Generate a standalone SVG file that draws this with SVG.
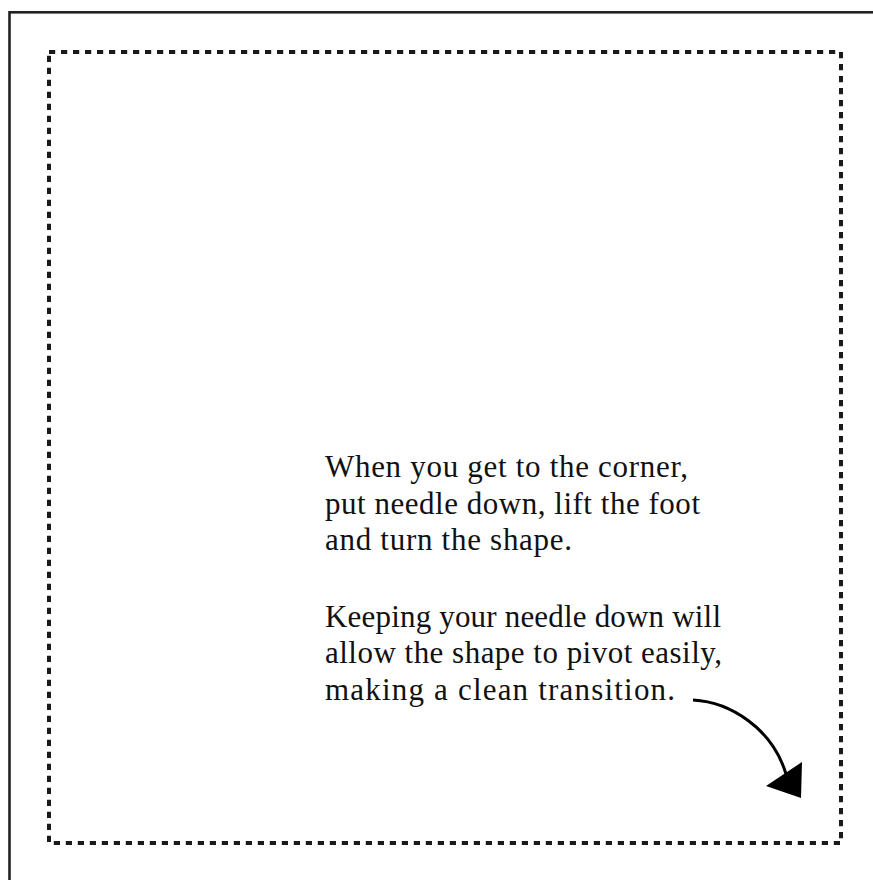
<svg xmlns="http://www.w3.org/2000/svg" width="873" height="880" viewBox="0 0 873 880">
  <style>
    .frame { fill: none; stroke: #222; stroke-width: 2.6; }
    .stitch { fill: none; stroke: #1a1a1a; stroke-width: 4; stroke-dasharray: 6.2 5.8; }
    .note { font-family: "Liberation Serif", "Times New Roman", serif; font-size: 31px; fill: #111; }
    .conn { fill: none; stroke: #000; stroke-width: 3; }
  </style>
  <rect width="873" height="880" fill="#fff"/>
  <g id="frame">
    <rect class="frame" x="9.5" y="12.3" width="900" height="900"/>
  </g>
  <g id="stitch-square">
    <rect class="stitch" x="49" y="52" width="792" height="791"/>
  </g>
  <g id="instructions">
    <text class="note" x="325" y="477" textLength="363" lengthAdjust="spacing">When you get to the corner,</text>
    <text class="note" x="325" y="514" textLength="375" lengthAdjust="spacing">put needle down, lift the foot</text>
    <text class="note" x="325" y="550" textLength="247" lengthAdjust="spacing">and turn the shape.</text>
    <text class="note" x="325" y="627" textLength="396" lengthAdjust="spacing">Keeping your needle down will</text>
    <text class="note" x="325" y="663" textLength="397" lengthAdjust="spacing">allow the shape to pivot easily,</text>
    <text class="note" x="325" y="700" textLength="350" lengthAdjust="spacing">making a clean transition.</text>
  </g>
  <g id="connectors">
    <path class="conn" d="M693,700 C730,702 772,728 786,774"/>
    <polygon points="801,798 802,762 766,786" fill="#000"/>
  </g>
</svg>
